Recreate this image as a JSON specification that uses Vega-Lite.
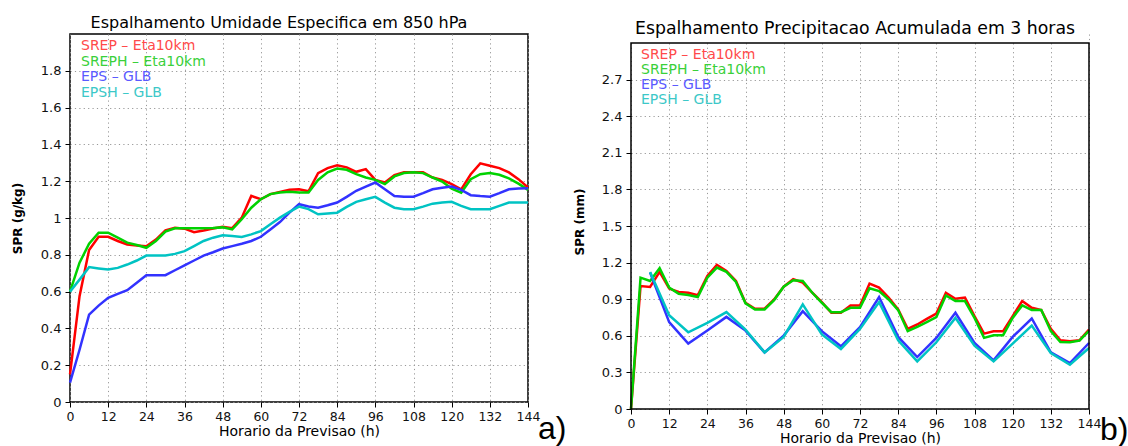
{
  "$schema": "https://vega.github.io/schema/vega-lite/v6.json",
  "background": "white",
  "padding": {"left": 10, "top": 14, "right": 0, "bottom": 0},
  "spacing": 5,
  "config": {
    "font": "DejaVu Sans",
    "view": {"stroke": "black", "strokeWidth": 1.5},
    "axis": {
      "labelFont": "DejaVu Sans", "labelFontSize": 13, "labelColor": "#111", "labelOverlap": false, "labelBound": false,
      "titleFont": "DejaVu Sans", "titleColor": "#000",
      "grid": true, "gridColor": "#999", "gridDash": [1.2, 3.2], "gridWidth": 1,
      "domain": false, "tickColor": "#000", "tickSize": 5, "tickWidth": 1, "tickCount": 30
    },
    "axisX": {"labelOverlap": false, "labelFlush": false},
    "title": {"font": "DejaVu Sans", "fontSize": 16, "fontWeight": "normal", "color": "#000"}
  },
  "datasets": {
    "umidade": [
      {"h":0,"srep":0.15,"sreph":0.60,"eps":0.105,"epsh":0.60},
      {"h":3,"srep":0.575,"sreph":0.757,"eps":0.284,"epsh":0.665},
      {"h":6,"srep":0.826,"sreph":0.86,"eps":0.475,"epsh":0.733},
      {"h":9,"srep":0.898,"sreph":0.92,"eps":0.524,"epsh":0.726},
      {"h":12,"srep":0.898,"sreph":0.92,"eps":0.566,"epsh":0.72},
      {"h":15,"srep":0.875,"sreph":0.893,"eps":0.588,"epsh":0.729},
      {"h":18,"srep":0.856,"sreph":0.866,"eps":0.608,"epsh":0.747},
      {"h":21,"srep":0.851,"sreph":0.853,"eps":0.648,"epsh":0.769},
      {"h":24,"srep":0.847,"sreph":0.838,"eps":0.689,"epsh":0.796},
      {"h":27,"srep":0.883,"sreph":0.875,"eps":0.689,"epsh":0.796},
      {"h":30,"srep":0.933,"sreph":0.926,"eps":0.689,"epsh":0.796},
      {"h":33,"srep":0.947,"sreph":0.944,"eps":0.716,"epsh":0.805},
      {"h":36,"srep":0.942,"sreph":0.944,"eps":0.743,"epsh":0.82},
      {"h":39,"srep":0.923,"sreph":0.944,"eps":0.769,"epsh":0.847},
      {"h":42,"srep":0.932,"sreph":0.944,"eps":0.796,"epsh":0.875},
      {"h":45,"srep":0.943,"sreph":0.945,"eps":0.814,"epsh":0.893},
      {"h":48,"srep":0.953,"sreph":0.949,"eps":0.834,"epsh":0.906},
      {"h":51,"srep":0.945,"sreph":0.938,"eps":0.847,"epsh":0.902},
      {"h":54,"srep":1.002,"sreph":0.993,"eps":0.86,"epsh":0.897},
      {"h":57,"srep":1.12,"sreph":1.056,"eps":0.875,"epsh":0.911},
      {"h":60,"srep":1.102,"sreph":1.102,"eps":0.898,"epsh":0.929},
      {"h":63,"srep":1.13,"sreph":1.13,"eps":0.938,"epsh":0.966},
      {"h":66,"srep":1.142,"sreph":1.138,"eps":0.978,"epsh":1.002},
      {"h":69,"srep":1.153,"sreph":1.142,"eps":1.029,"epsh":1.033},
      {"h":72,"srep":1.156,"sreph":1.138,"eps":1.075,"epsh":1.062},
      {"h":75,"srep":1.145,"sreph":1.138,"eps":1.063,"epsh":1.048},
      {"h":78,"srep":1.244,"sreph":1.207,"eps":1.056,"epsh":1.02},
      {"h":81,"srep":1.271,"sreph":1.248,"eps":1.069,"epsh":1.024},
      {"h":84,"srep":1.287,"sreph":1.269,"eps":1.084,"epsh":1.029},
      {"h":87,"srep":1.275,"sreph":1.262,"eps":1.115,"epsh":1.06},
      {"h":90,"srep":1.251,"sreph":1.238,"eps":1.148,"epsh":1.088},
      {"h":93,"srep":1.266,"sreph":1.22,"eps":1.171,"epsh":1.102},
      {"h":96,"srep":1.207,"sreph":1.207,"eps":1.193,"epsh":1.115},
      {"h":99,"srep":1.193,"sreph":1.184,"eps":1.156,"epsh":1.084},
      {"h":102,"srep":1.233,"sreph":1.226,"eps":1.12,"epsh":1.056},
      {"h":105,"srep":1.248,"sreph":1.244,"eps":1.116,"epsh":1.048},
      {"h":108,"srep":1.248,"sreph":1.248,"eps":1.116,"epsh":1.048},
      {"h":111,"srep":1.248,"sreph":1.244,"eps":1.135,"epsh":1.062},
      {"h":114,"srep":1.22,"sreph":1.22,"eps":1.156,"epsh":1.078},
      {"h":117,"srep":1.207,"sreph":1.198,"eps":1.164,"epsh":1.084},
      {"h":120,"srep":1.184,"sreph":1.16,"eps":1.171,"epsh":1.088},
      {"h":123,"srep":1.156,"sreph":1.138,"eps":1.153,"epsh":1.066},
      {"h":126,"srep":1.238,"sreph":1.211,"eps":1.124,"epsh":1.048},
      {"h":129,"srep":1.297,"sreph":1.238,"eps":1.119,"epsh":1.048},
      {"h":132,"srep":1.284,"sreph":1.244,"eps":1.116,"epsh":1.048},
      {"h":135,"srep":1.271,"sreph":1.235,"eps":1.135,"epsh":1.066},
      {"h":138,"srep":1.248,"sreph":1.215,"eps":1.156,"epsh":1.084},
      {"h":141,"srep":1.211,"sreph":1.187,"eps":1.16,"epsh":1.084},
      {"h":144,"srep":1.166,"sreph":1.153,"eps":1.162,"epsh":1.084}
    ],
    "precip": [
      {"h":0,"srep":0,"sreph":0,"eps":null,"epsh":null},
      {"h":3,"srep":1.008,"sreph":1.077,"eps":null,"epsh":null},
      {"h":6,"srep":1.0,"sreph":1.05,"eps":1.119,"epsh":1.124},
      {"h":9,"srep":1.124,"sreph":1.154,"eps":null,"epsh":null},
      {"h":12,"srep":0.987,"sreph":0.995,"eps":0.712,"epsh":0.769},
      {"h":15,"srep":0.959,"sreph":0.945,"eps":null,"epsh":null},
      {"h":18,"srep":0.953,"sreph":0.934,"eps":0.536,"epsh":0.629},
      {"h":21,"srep":0.932,"sreph":0.918,"eps":null,"epsh":null},
      {"h":24,"srep":1.091,"sreph":1.077,"eps":0.643,"epsh":0.706},
      {"h":27,"srep":1.182,"sreph":1.159,"eps":null,"epsh":null},
      {"h":30,"srep":1.132,"sreph":1.124,"eps":0.755,"epsh":0.794},
      {"h":33,"srep":1.05,"sreph":1.041,"eps":null,"epsh":null},
      {"h":36,"srep":0.871,"sreph":0.866,"eps":0.643,"epsh":0.651},
      {"h":39,"srep":0.822,"sreph":0.816,"eps":null,"epsh":null},
      {"h":42,"srep":0.822,"sreph":0.816,"eps":0.464,"epsh":0.464},
      {"h":45,"srep":0.898,"sreph":0.893,"eps":null,"epsh":null},
      {"h":48,"srep":1.003,"sreph":1.003,"eps":0.602,"epsh":0.591},
      {"h":51,"srep":1.064,"sreph":1.056,"eps":null,"epsh":null},
      {"h":54,"srep":1.036,"sreph":1.05,"eps":0.802,"epsh":0.858},
      {"h":57,"srep":0.953,"sreph":0.953,"eps":null,"epsh":null},
      {"h":60,"srep":0.876,"sreph":0.871,"eps":0.638,"epsh":0.611},
      {"h":63,"srep":0.789,"sreph":0.794,"eps":null,"epsh":null},
      {"h":66,"srep":0.789,"sreph":0.794,"eps":0.514,"epsh":0.492},
      {"h":69,"srep":0.849,"sreph":0.83,"eps":null,"epsh":null},
      {"h":72,"srep":0.849,"sreph":0.83,"eps":0.671,"epsh":0.657},
      {"h":75,"srep":1.028,"sreph":0.989,"eps":null,"epsh":null},
      {"h":78,"srep":0.995,"sreph":0.967,"eps":0.918,"epsh":0.876},
      {"h":81,"srep":0.913,"sreph":0.898,"eps":null,"epsh":null},
      {"h":84,"srep":0.816,"sreph":0.811,"eps":0.591,"epsh":0.563},
      {"h":87,"srep":0.657,"sreph":0.638,"eps":null,"epsh":null},
      {"h":90,"srep":0.693,"sreph":0.673,"eps":0.426,"epsh":0.39},
      {"h":93,"srep":0.739,"sreph":0.712,"eps":null,"epsh":null},
      {"h":96,"srep":0.783,"sreph":0.753,"eps":0.583,"epsh":0.547},
      {"h":99,"srep":0.953,"sreph":0.931,"eps":null,"epsh":null},
      {"h":102,"srep":0.904,"sreph":0.885,"eps":0.789,"epsh":0.747},
      {"h":105,"srep":0.913,"sreph":0.885,"eps":null,"epsh":null},
      {"h":108,"srep":0.761,"sreph":0.747,"eps":0.541,"epsh":0.519},
      {"h":111,"srep":0.618,"sreph":0.583,"eps":null,"epsh":null},
      {"h":114,"srep":0.638,"sreph":0.605,"eps":0.399,"epsh":0.39},
      {"h":117,"srep":0.638,"sreph":0.605,"eps":null,"epsh":null},
      {"h":120,"srep":0.761,"sreph":0.747,"eps":0.591,"epsh":0.536},
      {"h":123,"srep":0.885,"sreph":0.849,"eps":null,"epsh":null},
      {"h":126,"srep":0.83,"sreph":0.811,"eps":0.742,"epsh":0.684},
      {"h":129,"srep":0.811,"sreph":0.811,"eps":null,"epsh":null},
      {"h":132,"srep":0.657,"sreph":0.638,"eps":0.464,"epsh":0.459},
      {"h":135,"srep":0.563,"sreph":0.549,"eps":null,"epsh":null},
      {"h":138,"srep":0.555,"sreph":0.547,"eps":0.376,"epsh":0.363},
      {"h":141,"srep":0.563,"sreph":0.56,"eps":null,"epsh":null},
      {"h":144,"srep":0.651,"sreph":0.64,"eps":0.541,"epsh":0.5}
    ]
  },
  "hconcat": [
    {
      "width": 458,
      "height": 368,
      "title": {"text": "Espalhamento Umidade Especifica em 850 hPa", "offset": 3, "dx": -20},
      "layer": [
        {
          "data": {"name": "umidade"},
          "transform": [
            {"fold": ["srep", "sreph", "eps", "epsh"], "as": ["serie", "v"]},
            {"filter": "isValid(datum.v)"}
          ],
          "mark": {"type": "line", "strokeWidth": 2.5},
          "encoding": {
            "x": {"field": "h", "type": "quantitative",
              "scale": {"domain": [0, 144], "nice": false},
              "axis": {"values": [0,12,24,36,48,60,72,84,96,108,120,132,144], "tickCount": 30, "labelOverlap": false, "labelFontSize": 12.5, "title": "Horario da Previsao (h)", "titleFontSize": 14, "titleFontWeight": "normal", "titlePadding": 2, "labelPadding": 3}},
            "y": {"field": "v", "type": "quantitative",
              "scale": {"domain": [0, 2], "nice": false},
              "axis": {"values": [0,0.2,0.4,0.6,0.8,1,1.2,1.4,1.6,1.8], "tickCount": 30, "format": "~g", "title": "SPR (g/kg)", "titleFontSize": 12, "titleFontWeight": "bold", "titlePadding": 16, "labelPadding": 4}},
            "color": {"field": "serie", "type": "nominal",
              "scale": {"domain": ["srep", "sreph", "eps", "epsh"], "range": ["#ff0000", "#00d200", "#3232ff", "#00c3c3"]},
              "legend": {
                "orient": "top-left", "offset": 5, "title": null, "padding": 0,
                "symbolSize": 0, "symbolOpacity": 0, "symbolStrokeWidth": 0,
                "labelOffset": -8, "labelFont": "DejaVu Sans", "labelFontSize": 14, "rowPadding": 1.5,
                "labelExpr": "datum.label == 'srep' ? 'SREP – Eta10km' : datum.label == 'sreph' ? 'SREPH – Eta10km' : datum.label == 'eps' ? 'EPS – GLB' : 'EPSH – GLB'",
                "encode": {"labels": {"update": {"fill": {"signal": "datum.value == 'srep' ? '#ff4a4a' : datum.value == 'sreph' ? '#3ad03a' : datum.value == 'eps' ? '#5a5aff' : '#3cc8c8'"}}}}
              }}
          }
        },
        {
          "data": {"values": [{"t": "a)"}]},
          "mark": {"type": "text", "font": "Liberation Sans", "fontSize": 32, "align": "left", "baseline": "alphabetic", "dx": 10, "dy": 37, "color": "#000"},
          "encoding": {"text": {"field": "t"}, "x": {"datum": 144}, "y": {"datum": 0}}
        }
      ]
    },
    {
      "width": 458,
      "height": 375,
      "view": {"stroke": null},
      "title": {"text": "Espalhamento Precipitacao Acumulada em 3 horas", "offset": -3, "fontSize": 17.3, "dx": -5},
      "layer": [
        {
          "data": {"name": "precip"},
          "transform": [
            {"fold": ["srep", "sreph", "eps", "epsh"], "as": ["serie", "v"]},
            {"filter": "isValid(datum.v)"}
          ],
          "mark": {"type": "line", "strokeWidth": 2.5},
          "encoding": {
            "x": {"field": "h", "type": "quantitative",
              "scale": {"domain": [0, 144], "nice": false},
              "axis": {"values": [0,12,24,36,48,60,72,84,96,108,120,132,144], "tickCount": 30, "labelOverlap": false, "labelFontSize": 12.5, "title": "Horario da Previsao (h)", "titleFontSize": 14, "titleFontWeight": "normal", "titlePadding": 2, "labelPadding": 3}},
            "y": {"field": "v", "type": "quantitative",
              "scale": {"domain": [0, 3.0742], "nice": false},
              "axis": {"values": [0,0.3,0.6,0.9,1.2,1.5,1.8,2.1,2.4,2.7], "tickCount": 30, "format": "~g", "title": "SPR (mm)", "titleFontSize": 12, "titleFontWeight": "bold", "titlePadding": 15, "labelPadding": 4}},
            "color": {"field": "serie", "type": "nominal",
              "scale": {"domain": ["srep", "sreph", "eps", "epsh"], "range": ["#ff0000", "#00d200", "#3232ff", "#00c3c3"]},
              "legend": {
                "orient": "top-left", "offset": 14, "title": null, "padding": 0,
                "symbolSize": 0, "symbolOpacity": 0, "symbolStrokeWidth": 0,
                "labelOffset": -18, "labelFont": "DejaVu Sans", "labelFontSize": 14, "rowPadding": 1,
                "labelExpr": "datum.label == 'srep' ? 'SREP – Eta10km' : datum.label == 'sreph' ? 'SREPH – Eta10km' : datum.label == 'eps' ? 'EPS – GLB' : 'EPSH – GLB'",
                "encode": {"labels": {"update": {"fill": {"signal": "datum.value == 'srep' ? '#ff4a4a' : datum.value == 'sreph' ? '#3ad03a' : datum.value == 'eps' ? '#5a5aff' : '#3cc8c8'"}}}}
              }}
          }
        },
        {
          "data": {"values": [{}]},
          "mark": {"type": "rect", "fill": "white", "strokeWidth": 0},
          "encoding": {"x": {"datum": 0}, "x2": {"datum": 144}, "y": {"datum": 3}, "y2": {"datum": 3.0742}}
        },
        {
          "data": {"values": [{}]},
          "mark": {"type": "rect", "filled": false, "stroke": "black", "strokeWidth": 1.5},
          "encoding": {"x": {"datum": 0}, "x2": {"datum": 144}, "y": {"datum": 0}, "y2": {"datum": 3}}
        },
        {
          "data": {"values": [{"t": "b)"}]},
          "mark": {"type": "text", "font": "Liberation Sans", "fontSize": 32, "align": "left", "baseline": "alphabetic", "dx": 11, "dy": 31, "color": "#000"},
          "encoding": {"text": {"field": "t"}, "x": {"datum": 144}, "y": {"datum": 0}}
        }
      ]
    }
  ],
  "resolve": {"scale": {"color": "independent"}, "legend": {"color": "independent"}}
}
